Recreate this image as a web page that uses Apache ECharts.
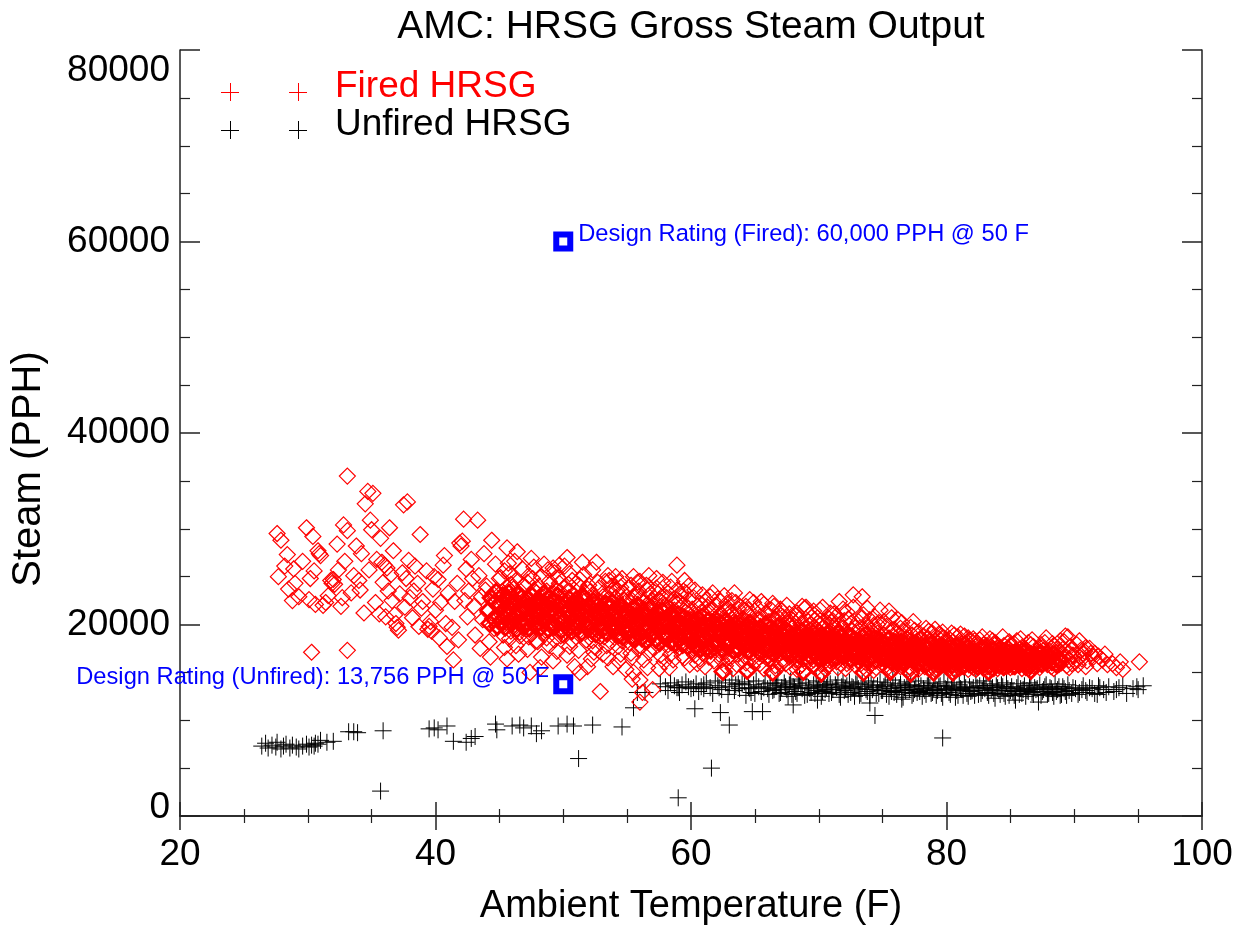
<!DOCTYPE html>
<html>
<head>
<meta charset="utf-8">
<script src="https://cdn.jsdelivr.net/npm/echarts@6/dist/echarts.min.js"></script>
<style>html,body{margin:0;padding:0;background:#fff}#c{width:1244px;height:928px}</style>
</head>
<body>
<div id="c"></div>
<script>
// ---- axis / text data ----
const titleText = 'AMC: HRSG Gross Steam Output';
const xName = 'Ambient Temperature (F)';
const yName = 'Steam (PPH)';
const xRange = [20, 100];
const yRange = [0, 80000];
const legendNames = ['Fired HRSG', 'Unfired HRSG'];

// ---- design ratings ----
const designFired = [50, 60000];
const designUnfired = [50, 13756];
const designFiredLabel = 'Design Rating (Fired): 60,000 PPH @ 50 F';
const designUnfiredLabel = 'Design Rating (Unfired): 13,756 PPH @ 50 F';

// ---- Fired HRSG (T [F], steam [PPH]) ----
const firedCool = [
[27.6,29500],[27.9,28800],[27.7,25000],[28.2,26100],[28.5,23700],[28.8,22500],[28.4,27300],[29.0,24300],[29.3,22900],[28.9,25800],
[29.9,30100],[30.4,29200],[30.3,17100],[30.1,22600],[30.6,22100],[30.8,27700],[31.0,27200],[30.9,27400],[30.5,25600],[29.6,26600],[30.2,24800],[31.2,22000],[31.4,22300],
[31.8,24600],[31.9,24300],[32.0,24700],[32.1,24200],[31.6,23000],[32.4,25700],[32.6,21900],[32.8,30400],[33.1,29800],[33.1,35500],[33.1,17300],[32.9,26600],[32.3,28400],[33.4,23300],[33.6,25100],[32.7,22800],
[34.0,24600],[34.2,27400],[34.5,32600],[34.7,33900],[34.9,30900],[35.0,29900],[35.1,33700],[35.3,22300],[34.4,21200],[34.8,25700],[33.8,28200],[35.4,26800],[34.1,23600],[35.6,21100],
[35.7,29000],[35.8,26500],[36.0,26200],[36.2,25900],[36.4,30100],[36.3,23500],[35.9,24400],[36.6,22500],[36.8,21000],[36.9,20100],[37.0,19700],[37.1,19400],[36.7,27700],[36.5,25200],[37.2,23200],[36.1,20800],
[37.5,32500],[37.8,32800],[37.4,25400],[37.7,24800],[38.0,22800],[38.2,20700],[38.4,26100],[38.6,24300],[38.8,29400],[38.9,21700],[38.3,23500],[37.9,26700],[38.7,19800],[39.0,22400],[37.6,21800],
[39.4,19500],[39.5,19800],[39.7,19300],[39.6,20300],[39.3,25600],[39.8,23700],[40.0,21500],[40.2,24700],[40.4,22300],[40.6,26200],[40.8,20100],[40.9,17700],[41.0,23300],[39.9,25000],[40.3,18600],[40.7,27200],
[41.4,16300],[41.5,22400],[41.7,24300],[41.9,28500],[42.0,28200],[42.1,28700],[42.2,31000],[42.4,25800],[42.5,20800],[42.6,23500],[42.8,26800],[43.0,21900],[41.3,19700],[41.8,18400],[42.9,24800],[42.3,22500],[43.3,30900],[43.1,18900],
[43.4,25100],[43.6,22900],[43.7,20500],[43.8,27400],[44.0,24000],[44.1,21300],[44.2,18200],[44.4,28800],[44.5,23200],[44.6,19600],[44.7,26300],[44.9,22100],[45.0,24800],[43.5,17500],[44.3,16600],[44.8,20700],[43.9,23600]
];
const firedMid = [
[45.1,21800],[45.2,23400],[45.3,19900],[45.4,25600],[45.5,20600],[45.6,28000],[45.7,22700],[45.8,18500],[45.9,24200],[45.2,21000],[45.4,17600],[45.6,23900],[45.8,20300],[45.3,22400],[45.7,26400],[45.9,19300],[45.1,24900],[45.5,21400],[45.6,16400],[45.9,22900],[45.3,18900],[45.8,25300],
[46.0,21100],[46.1,23700],[46.2,20000],[46.3,24600],[46.4,27600],[46.5,22200],[46.6,18800],[46.7,21600],[46.8,25800],[46.9,19600],[46.1,22800],[46.3,17800],[46.5,23300],[46.7,20400],[46.9,24100],[46.2,26600],[46.4,21300],[46.6,19200],[46.8,22400],[46.0,23900],[46.5,16900],[46.9,21900],[46.3,20800],
[47.0,22500],[47.1,19500],[47.2,24400],[47.3,21200],[47.4,15000],[47.5,23100],[47.6,20100],[47.7,26000],[47.8,22000],[47.9,18300],[47.1,21700],[47.3,25100],[47.5,19000],[47.7,23600],[47.9,20900],[47.2,17400],[47.4,22600],[47.6,24800],[47.8,21400],[47.0,20000],[47.5,26900],[47.9,23300],[47.3,18700],
[48.0,21900],[48.1,24000],[48.2,15500],[48.3,20500],[48.4,22900],[48.5,26300],[48.6,19400],[48.7,23500],[48.8,21000],[48.9,17800],[48.1,22300],[48.3,25000],[48.5,20200],[48.7,18600],[48.9,24500],[48.2,21600],[48.4,19100],[48.6,23000],[48.8,25700],[48.0,18200],[48.5,21300],[48.9,22600],[48.3,16600],[48.7,20700],
[49.0,22100],[49.1,19800],[49.2,25900],[49.3,21500],[49.4,23700],[49.5,17200],[49.6,20600],[49.7,24300],[49.8,22800],[49.9,19000],[49.1,23200],[49.3,18400],[49.5,21900],[49.7,26200],[49.9,20300],[49.2,16200],[49.4,22500],[49.6,24900],[49.8,18800],[49.0,20900],[49.5,23500],[49.9,21300],[49.3,25400],[49.7,19600],
[50.0,21200],[50.1,23900],[50.2,19300],[50.3,27000],[50.4,22300],[50.5,17700],[50.6,20800],[50.7,24600],[50.8,21700],[50.9,15600],[50.1,22700],[50.3,20100],[50.5,25300],[50.7,18300],[50.9,23000],[50.2,21000],[50.4,24200],[50.6,19800],[50.8,22000],[50.0,18900],[50.5,23500],[50.9,20500],[50.3,16800],[50.7,21900],[50.1,26100],
[51.0,22200],[51.1,19600],[51.2,24100],[51.3,15000],[51.4,21400],[51.5,26500],[51.6,20200],[51.7,23300],[51.8,18400],[51.9,15600],[51.1,21800],[51.3,24700],[51.5,19200],[51.7,22500],[51.9,20700],[51.2,17300],[51.4,23000],[51.6,25200],[51.8,21100],[51.0,19900],[51.5,22900],[51.9,23700],[51.3,18900],[51.7,20000],[51.2,21500],
[52.0,21000],[52.1,23400],[52.2,19000],[52.3,25700],[52.4,22000],[52.5,17600],[52.6,26500],[52.7,20400],[52.8,23800],[52.9,13000],[52.1,21600],[52.3,18300],[52.5,22700],[52.7,24400],[52.9,20000],[52.2,16400],[52.4,21300],[52.6,19500],[52.8,22400],[52.0,24100],[52.5,20900],[52.9,18700],[52.3,23100],[52.7,21900],[52.4,17100],
[53.0,20700],[53.1,22900],[53.2,18700],[53.3,24500],[53.4,21400],[53.5,16500],[53.6,23200],[53.7,19900],[53.8,21900],[53.9,15600],[53.1,20300],[53.3,22300],[53.5,25100],[53.7,18200],[53.9,23700],[53.2,20900],[53.4,17800],[53.6,21700],[53.8,24000],[53.0,19400],[53.5,22600],[53.9,20200],[53.3,19100],[53.7,22000],[53.1,16900],[53.6,24600],
[54.0,21200],[54.1,18900],[54.2,23600],[54.3,20400],[54.4,22200],[54.5,16900],[54.6,24800],[54.7,19700],[54.8,21600],[54.9,15300],[54.1,22800],[54.3,17700],[54.5,20900],[54.7,23300],[54.9,19200],[54.2,21900],[54.4,24400],[54.6,18300],[54.8,22500],[54.0,20000],[54.5,23900],[54.9,21400],[54.3,16200],[54.7,20600],[54.1,25000],[54.6,22000],
[55.0,20500],[55.1,22600],[55.2,18100],[55.3,24100],[55.4,21000],[55.5,15000],[55.6,23000],[55.7,19400],[55.8,21800],[55.9,17400],[55.1,20000],[55.3,22200],[55.5,25000],[55.7,18800],[55.9,23500],[55.2,20700],[55.4,16600],[55.6,21500],[55.8,24400],[55.0,19000],[55.5,22900],[55.9,20300],[55.3,17000],[55.7,21300],[55.1,23800],[55.6,19800],[55.4,14300],[55.8,22000],
[56.0,24500],[56.1,19700],[56.2,12900],[56.0,11900],[56.3,22300],[56.4,18200],[56.5,20800],[56.6,23600],[56.7,17100],[56.8,21500],[56.9,19100],[56.1,22800],[56.3,16300],[56.5,24100],[56.7,20200],[56.9,22500],[56.2,18800],[56.4,21200],[56.6,15500],[56.8,23200],[56.0,14200],[56.5,19500],[56.9,21800],[56.3,20000],[56.7,25100],[56.1,17700],[56.6,22100],
[57.0,13200],[57.1,21000],[57.2,18600],[57.3,23800],[57.4,20100],[57.5,22600],[57.6,16800],[57.7,19700],[57.8,24400],[57.9,21300],[57.1,17500],[57.3,20900],[57.5,15400],[57.7,22900],[57.9,18800],[57.2,21600],[57.4,23200],[57.6,19200],[57.8,20500],[57.0,22100],[57.5,18200],[57.9,16100],[57.3,24800],[57.7,21900],[57.1,19900],[57.6,22400],
[58.0,20600],[58.1,22800],[58.2,17900],[58.3,19300],[58.4,23900],[58.5,21200],[58.6,16300],[58.7,20000],[58.8,22300],[58.9,26200],[58.1,18500],[58.3,21700],[58.5,24500],[58.7,19100],[58.9,21000],[58.2,23300],[58.4,16900],[58.6,20400],[58.8,18200],[58.0,22000],[58.5,19600],[58.9,23600],[58.3,15500],[58.7,21500],[58.1,20800],[58.6,22600],
[59.0,19700],[59.1,22400],[59.2,18100],[59.3,20900],[59.4,23500],[59.5,16500],[59.6,21300],[59.7,19000],[59.8,24000],[59.9,20300],[59.1,17600],[59.3,22000],[59.5,19400],[59.7,21800],[59.9,15800],[59.2,23000],[59.4,20000],[59.6,18600],[59.8,22600],[59.0,21100],[59.5,24600],[59.9,18900],[59.3,16700],[59.7,20600],[59.1,19900],[59.6,23300]
];
const firedWarm = [
[60.0,19200],[60.1,21600],[60.2,17500],[60.3,23600],[60.4,20100],[60.5,15900],[60.6,18800],[60.7,22200],[60.8,19800],[60.9,17000],[60.1,20500],[60.3,18300],[60.5,21900],[60.7,16400],[60.9,20900],[60.2,22800],[60.4,19000],[60.6,17800],[60.8,21300],[60.0,18500],[60.5,20300],[60.9,23100],[60.3,16800],[60.7,19500],[60.2,21100],[60.6,18100],
[61.0,20700],[61.1,18300],[61.2,22600],[61.3,19600],[61.4,16600],[61.5,21200],[61.6,17900],[61.7,23300],[61.8,19200],[61.9,20500],[61.1,15600],[61.3,21800],[61.5,18700],[61.7,20100],[61.9,22000],[61.2,17300],[61.4,19900],[61.6,21500],[61.8,16200],[61.0,18900],[61.5,22900],[61.9,17600],[61.3,20300],[61.7,18000],[61.1,21000],[61.6,19400],
[62.0,18600],[62.1,20800],[62.2,16900],[62.3,22400],[62.4,19300],[62.5,17500],[62.6,21400],[62.7,15700],[62.8,20000],[62.9,18200],[62.1,22700],[62.3,19000],[62.5,20600],[62.7,17200],[62.9,21700],[62.2,18900],[62.4,16300],[62.6,19800],[62.8,22200],[62.0,20300],[62.5,18400],[62.9,16600],[62.3,21100],[62.7,19500],[62.1,17800],[62.6,23000],
[63.0,19100],[63.1,21300],[63.2,17300],[63.3,20200],[63.4,23300],[63.5,18600],[63.6,15800],[63.7,19700],[63.8,21900],[63.9,17900],[63.1,16500],[63.3,18800],[63.5,21000],[63.7,17600],[63.9,20400],[63.2,22500],[63.4,19300],[63.6,16900],[63.8,18300],[63.0,20800],[63.5,22300],[63.9,19000],[63.3,15400],[63.7,21600],[63.1,18100],[63.6,20600],
[64.0,18400],[64.1,20600],[64.2,16700],[64.3,21900],[64.4,19000],[64.5,17400],[64.6,22600],[64.7,18900],[64.8,15600],[64.9,22300],[64.1,19500],[64.3,17800],[64.5,20200],[64.7,16300],[64.9,19800],[64.2,21400],[64.4,18100],[64.6,20900],[64.8,17100],[64.0,19300],[64.5,21500],[64.9,18600],[64.3,16000],[64.7,20000],[64.1,17600],[64.6,19700],
[65.0,19600],[65.1,17600],[65.2,21700],[65.3,18300],[65.4,15900],[65.5,20400],[65.6,17100],[65.7,22100],[65.8,18900],[65.9,16500],[65.1,20100],[65.3,17900],[65.5,19200],[65.7,15400],[65.9,21200],[65.2,18700],[65.4,20800],[65.6,16800],[65.8,19900],[65.0,18000],[65.5,22400],[65.9,17300],[65.3,20500],[65.7,18500],[65.1,16200],[65.6,19400],
[66.0,18200],[66.1,20300],[66.2,16500],[66.3,21500],[66.4,17700],[66.5,19500],[66.6,15700],[66.7,20900],[66.8,18600],[66.9,17000],[66.1,19000],[66.3,16100],[66.5,21900],[66.7,17400],[66.9,20000],[66.2,18900],[66.4,22200],[66.6,17900],[66.8,19700],[66.0,16800],[66.5,18300],[66.9,21100],[66.3,19300],[66.7,15300],[66.1,17200],[66.6,20600],
[67.0,19400],[67.1,17100],[67.2,20800],[67.3,16200],[67.4,18700],[67.5,22000],[67.6,17500],[67.7,19900],[67.8,15500],[67.9,18100],[67.1,21400],[67.3,17800],[67.5,19100],[67.7,16600],[67.9,20500],[67.2,18400],[67.4,15900],[67.6,20200],[67.8,17300],[67.0,21600],[67.5,16900],[67.9,19600],[67.3,18900],[67.7,21100],[67.1,16000],[67.6,18000],
[68.0,17700],[68.1,19800],[68.2,16300],[68.3,21200],[68.4,18200],[68.5,15600],[68.6,20100],[68.7,17400],[68.8,19300],[68.9,21700],[68.1,16900],[68.3,18700],[68.5,20600],[68.7,15800],[68.9,18500],[68.2,20900],[68.4,17000],[68.6,18900],[68.8,16400],[68.0,20400],[68.5,17900],[68.9,19600],[68.3,15300],[68.7,21900],[68.1,18300],[68.6,16700],
[69.0,18800],[69.1,16600],[69.2,20300],[69.3,17500],[69.4,19400],[69.5,15700],[69.6,21400],[69.7,18000],[69.8,16900],[69.9,20700],[69.1,18400],[69.3,21000],[69.5,17200],[69.7,19700],[69.9,15500],[69.2,17800],[69.4,20000],[69.6,16300],[69.8,19000],[69.0,21800],[69.5,18600],[69.9,17600],[69.3,16000],[69.7,20500],[69.1,19200],[69.6,17300],
[70.0,17900],[70.1,20000],[70.2,16500],[70.3,21800],[70.4,18600],[70.5,15400],[70.6,19500],[70.7,17100],[70.8,20600],[70.9,16200],[70.1,18300],[70.3,15900],[70.5,19900],[70.7,18800],[70.9,21200],[70.2,17400],[70.4,20300],[70.6,16800],[70.8,18100],[70.0,19300],[70.5,17700],[70.9,19100],[70.3,17000],[70.7,15600],[70.1,21500],[70.6,18500],
[71.0,18700],[71.1,16400],[71.2,19800],[71.3,17300],[71.4,20900],[71.5,15500],[71.6,22400],[71.7,18100],[71.8,16800],[71.9,19600],[71.1,20400],[71.3,17700],[71.5,18900],[71.7,15900],[71.9,17500],[71.2,21100],[71.4,16100],[71.6,19200],[71.8,17900],[71.0,20200],[71.5,16600],[71.9,21600],[71.3,18400],[71.7,20000],[71.1,17000],[71.6,18300],
[72.0,17300],[72.1,19200],[72.2,15900],[72.3,20600],[72.4,17800],[72.5,16400],[72.6,18800],[72.7,23100],[72.8,17100],[72.9,19700],[72.1,15400],[72.3,18200],[72.5,20100],[72.7,16700],[72.9,18400],[72.2,21300],[72.4,16100],[72.6,19400],[72.8,17600],[72.0,20400],[72.5,18500],[72.9,15700],[72.3,17000],[72.7,21800],[72.1,18000],[72.6,16900],
[73.0,18300],[73.1,16300],[73.2,19600],[73.3,17400],[73.4,22900],[73.5,15600],[73.6,18900],[73.7,17000],[73.8,21700],[73.9,16600],[73.1,20300],[73.3,18000],[73.5,19200],[73.7,15300],[73.9,18600],[73.2,17700],[73.4,20700],[73.6,16100],[73.8,19000],[73.0,16900],[73.5,21000],[73.9,17800],[73.3,15900],[73.7,19900],[73.1,17200],[73.6,18200],
[74.0,17600],[74.1,19400],[74.2,16000],[74.3,18500],[74.4,20800],[74.5,15500],[74.6,17900],[74.7,16800],[74.8,21500],[74.9,18100],[74.1,16500],[74.3,19900],[74.5,17300],[74.7,20200],[74.9,15800],[74.2,18800],[74.4,16300],[74.6,19100],[74.8,17500],[74.0,20500],[74.5,18300],[74.9,16900],[74.3,15200],[74.7,18600],[74.1,17100],[74.6,20000]
];
const firedHot = [
[75.0,17000],[75.1,18900],[75.2,15700],[75.3,19800],[75.4,16600],[75.5,21400],[75.6,17700],[75.7,15300],[75.8,18300],[75.9,16200],[75.1,20300],[75.3,17300],[75.5,18600],[75.7,16000],[75.9,19500],[75.2,17900],[75.4,15500],[75.6,19100],[75.8,16800],[75.0,18100],[75.5,17500],[75.9,15900],[75.3,18000],[75.7,20700],[75.1,16400],
[76.0,18200],[76.1,16100],[76.2,20500],[76.3,17400],[76.4,15600],[76.5,18700],[76.6,16700],[76.7,19300],[76.8,17100],[76.9,15200],[76.1,19000],[76.3,16400],[76.5,17800],[76.7,15900],[76.9,18500],[76.2,17000],[76.4,19600],[76.6,16300],[76.8,18000],[76.0,15800],[76.5,20200],[76.9,17300],[76.3,18900],[76.7,16500],[76.1,17600],
[77.0,16800],[77.1,18600],[77.2,15400],[77.3,17700],[77.4,20300],[77.5,16300],[77.6,18100],[77.7,15800],[77.8,19200],[77.9,17000],[77.1,15600],[77.3,18900],[77.5,17300],[77.7,16600],[77.9,18400],[77.2,19700],[77.4,16100],[77.6,17500],[77.8,15300],[77.0,18000],[77.5,19400],[77.9,16400],[77.3,16900],[77.7,18300],[77.1,17200],
[78.0,17500],[78.1,15900],[78.2,18800],[78.3,16500],[78.4,19600],[78.5,17200],[78.6,15400],[78.7,18200],[78.8,16700],[78.9,19100],[78.1,17800],[78.3,15600],[78.5,18500],[78.7,16200],[78.9,17400],[78.2,16000],[78.4,17900],[78.6,19300],[78.8,15700],[78.0,18600],[78.5,16400],[78.9,18000],[78.3,17100],[78.7,15300],[78.1,16900],
[79.0,16600],[79.1,18300],[79.2,15500],[79.3,17600],[79.4,19000],[79.5,16200],[79.6,17900],[79.7,15800],[79.8,18600],[79.9,16900],[79.1,15300],[79.3,18100],[79.5,17300],[79.7,19200],[79.9,15700],[79.2,17000],[79.4,16400],[79.6,18800],[79.8,17400],[79.0,15900],[79.5,18400],[79.9,16300],[79.3,16700],[79.7,17700],[79.1,19500],
[80.0,17300],[80.1,15700],[80.2,18500],[80.3,16400],[80.4,19100],[80.5,16900],[80.6,15400],[80.7,17800],[80.8,16100],[80.9,18700],[80.1,17000],[80.3,15500],[80.5,18200],[80.7,16600],[80.9,17500],[80.2,16000],[80.4,17700],[80.6,18900],[80.8,15800],[80.0,18400],[80.5,16300],[80.9,17200],[80.3,17900],[80.7,15200],[80.1,16700],
[81.0,16500],[81.1,18100],[81.2,15600],[81.3,17400],[81.4,18800],[81.5,16200],[81.6,17700],[81.7,15300],[81.8,18400],[81.9,16800],[81.1,15900],[81.3,17900],[81.5,17100],[81.7,18600],[81.9,15700],[81.2,16900],[81.4,16000],[81.6,18200],[81.8,17200],[81.0,15400],[81.5,18000],[81.9,16400],[81.3,16600],[81.7,17500],[81.1,19000],
[82.0,17100],[82.1,15500],[82.2,18300],[82.3,16300],[82.4,17800],[82.5,15800],[82.6,18400],[82.7,16700],[82.8,17300],[82.9,15400],[82.1,16900],[82.3,18000],[82.5,16500],[82.7,17600],[82.9,16100],[82.2,15700],[82.4,16800],[82.6,17000],[82.8,18700],[82.0,16000],[82.5,17400],[82.9,17900],[82.3,15300],[82.7,16400],[82.1,18500],
[83.0,16400],[83.1,17800],[83.2,15600],[83.3,17200],[83.4,18500],[83.5,16100],[83.6,17500],[83.7,15400],[83.8,18100],[83.9,16700],[83.1,15900],[83.3,16600],[83.5,17700],[83.7,16300],[83.9,17400],[83.2,16900],[83.4,15700],[83.6,18300],[83.8,16000],[83.0,17600],[83.5,15500],[83.9,18000],[83.3,17000],[83.7,17900],
[84.0,16900],[84.1,15700],[84.2,17600],[84.3,16200],[84.4,18700],[84.5,15500],[84.6,17300],[84.7,16600],[84.8,18000],[84.9,15900],[84.1,17000],[84.3,16500],[84.5,17800],[84.7,15600],[84.9,17100],[84.2,16400],[84.4,15800],[84.6,16800],[84.8,17500],[84.0,15400],[84.5,16300],[84.9,18200],[84.3,17400],[84.7,16000],
[85.0,16600],[85.1,17800],[85.2,15600],[85.3,17100],[85.4,16200],[85.5,18300],[85.6,15800],[85.7,17400],[85.8,16500],[85.9,15400],[85.1,16900],[85.3,18000],[85.5,16100],[85.7,15700],[85.9,17600],[85.2,16400],[85.4,17200],[85.6,16700],[85.8,18500],[85.0,15500],
[86.0,16300],[86.1,17500],[86.2,15500],[86.3,16800],[86.4,18100],[86.5,15900],[86.6,17000],[86.7,16400],[86.8,17700],[86.9,15600],[86.1,16600],[86.3,17300],[86.5,16100],[86.7,18400],[86.9,16900],[86.2,15800],[86.4,16500],[86.6,17900],[86.8,15700],
[87.0,16800],[87.1,15700],[87.2,17400],[87.3,16300],[87.4,17900],[87.5,15900],[87.6,16600],[87.7,18100],[87.8,16100],[87.9,17100],[87.1,16500],[87.3,15500],[87.5,17600],[87.7,16900],[87.9,15800],[87.2,16200],[87.6,17300],[87.8,18600],
[88.0,16400],[88.1,17200],[88.2,15600],[88.3,16900],[88.4,17800],[88.5,15900],[88.6,16600],[88.7,17500],[88.8,16100],[88.9,18300],[88.2,16700],[88.4,15400],[88.6,17100],[88.8,15800],[88.3,18000],[88.7,16300],
[89.0,16000],[89.1,17400],[89.2,16500],[89.3,18800],[89.4,15700],[89.5,17000],[89.6,16300],[89.7,17700],[89.8,15900],[89.9,16800],[89.2,18200],[89.4,16600],[89.6,15500],[89.8,17300],[89.5,18700],
[90.0,16700],[90.2,17900],[90.3,15800],[90.5,17300],[90.6,16400],[90.8,17200],[90.9,15600],[90.1,16100],[90.4,18300],[90.7,16900],[90.9,17600],
[91.0,16200],[91.3,17000],[91.5,16600],[91.6,17000],[91.8,15900],[91.2,17500],[91.9,16700],
[92.2,16300],[92.6,15800],[92.4,16900],[93.0,15900],[93.3,15500],[93.8,15300],[93.6,16100],[95.1,16100]
];
// dense core of the fired cloud
const firedCore = [
[44.15,21500],[44.35,22800],[44.55,20600],[44.75,23400],[44.95,21900],[44.25,20100],[44.65,22300],[44.85,19800],
[45.05,22100],[45.15,20400],[45.25,23000],[45.35,21300],[45.45,19700],[45.55,22500],[45.65,20900],[45.75,23300],[45.85,21700],[45.95,20100],
[46.05,20600],[46.15,22300],[46.25,21000],[46.35,19500],[46.45,23100],[46.55,21500],[46.65,20200],[46.75,22800],[46.85,21200],[46.95,19900],
[47.05,21800],[47.15,20300],[47.25,22600],[47.35,19600],[47.45,21100],[47.55,23000],[47.65,20700],[47.75,22200],[47.85,19900],[47.95,21500],
[48.05,20800],[48.15,22500],[48.25,19700],[48.35,21600],[48.45,23200],[48.55,20400],[48.65,22000],[48.75,21200],[48.85,19500],[48.95,22800],
[49.05,21600],[49.15,20100],[49.25,22400],[49.35,19800],[49.45,21200],[49.55,23000],[49.65,20500],[49.75,22100],[49.85,19400],[49.95,21800],
[50.05,20400],[50.15,22100],[50.25,21400],[50.35,19600],[50.45,22700],[50.55,20900],[50.65,19300],[50.75,21900],[50.85,20200],[50.95,22500],
[51.05,21300],[51.15,19700],[51.25,22200],[51.35,20500],[51.45,19200],[51.55,21700],[51.65,22800],[51.75,20000],[51.85,21500],[51.95,19500],
[52.05,20100],[52.15,21800],[52.25,19400],[52.35,22400],[52.45,20700],[52.55,19000],[52.65,21300],[52.75,22000],[52.85,19800],[52.95,21000],
[53.05,21500],[53.15,19600],[53.25,20800],[53.35,22100],[53.45,19100],[53.55,20300],[53.65,21800],[53.75,20000],[53.85,22300],[53.95,19400],
[54.05,19800],[54.15,21400],[54.25,20500],[54.35,18900],[54.45,21900],[54.55,20000],[54.65,18700],[54.75,21200],[54.85,20700],[54.95,19300],
[55.05,21200],[55.15,19300],[55.25,20600],[55.35,18700],[55.45,21700],[55.55,19900],[55.65,18500],[55.75,20900],[55.85,22000],[55.95,19100],
[56.05,20300],[56.15,18600],[56.25,21300],[56.35,19400],[56.45,20800],[56.55,18300],[56.65,19900],[56.75,21600],[56.85,18900],[56.95,20500],
[57.05,19200],[57.15,20700],[57.25,18400],[57.35,21200],[57.45,19600],[57.55,18100],[57.65,20300],[57.75,21400],[57.85,18800],[57.95,19900],
[58.05,20500],[58.15,18700],[58.25,19900],[58.35,21000],[58.45,18200],[58.55,19500],[58.65,20800],[58.75,18000],[58.85,19700],[58.95,20300],
[59.05,18600],[59.15,20100],[59.25,19300],[59.35,17900],[59.45,20700],[59.55,18900],[59.65,19800],[59.75,17700],[59.85,20400],[59.95,19000],
[60.05,19700],[60.15,18200],[60.25,20300],[60.35,17700],[60.45,19300],[60.55,20600],[60.65,18500],[60.75,17500],[60.85,19900],[60.95,18800],
[61.05,18400],[61.15,19900],[61.25,17600],[61.35,20400],[61.45,18900],[61.55,17300],[61.65,19500],[61.75,20200],[61.85,18100],[61.95,19200],
[62.05,19500],[62.15,17900],[62.25,18700],[62.35,20100],[62.45,17400],[62.55,19200],[62.65,18200],[62.75,20400],[62.85,17700],[62.95,19700],
[63.05,18000],[63.15,19600],[63.25,18900],[63.35,17300],[63.45,20000],[63.55,18400],[63.65,19300],[63.75,17500],[63.85,19900],[63.95,18600],
[64.05,19100],[64.15,17700],[64.25,18500],[64.35,19800],[64.45,17200],[64.55,18900],[64.65,20100],[64.75,17900],[64.85,18300],[64.95,19500],
[65.05,17900],[65.15,19300],[65.25,18600],[65.35,17100],[65.45,19700],[65.55,18200],[65.65,19000],[65.75,17500],[65.85,20000],[65.95,18800],
[66.05,18900],[66.15,17400],[66.25,19600],[66.35,18300],[66.45,17000],[66.55,19100],[66.65,18600],[66.75,17700],[66.85,19800],[66.95,18000],
[67.05,17600],[67.15,18900],[67.25,18000],[67.35,19500],[67.45,17200],[67.55,18500],[67.65,19200],[67.75,16900],[67.85,18700],[67.95,17900],
[68.05,18600],[68.15,17300],[68.25,19000],[68.35,17800],[68.45,16800],[68.55,18400],[68.65,19300],[68.75,17100],[68.85,18100],[68.95,17600],
[69.05,17400],[69.15,18800],[69.25,17900],[69.35,16700],[69.45,18300],[69.55,19100],[69.65,17000],[69.75,18500],[69.85,17700],[69.95,16500],
[70.05,18400],[70.15,17100],[70.25,18900],[70.35,17600],[70.45,16600],[70.55,18200],[70.65,19000],[70.75,17300],[70.85,16900],[70.95,18600],
[71.05,17200],[71.15,18500],[71.25,17700],[71.35,16500],[71.45,18200],[71.55,19100],[71.65,16900],[71.75,18700],[71.85,17400],[71.95,16700],
[72.05,18100],[72.15,16800],[72.25,17500],[72.35,18800],[72.45,16400],[72.55,17900],[72.65,17200],[72.75,18400],[72.85,16600],[72.95,18000],
[73.05,17000],[73.15,18300],[73.25,16600],[73.35,17800],[73.45,18700],[73.55,16900],[73.65,17500],[73.75,18200],[73.85,16400],[73.95,17300],
[74.05,18000],[74.15,16700],[74.25,17400],[74.35,18500],[74.45,16300],[74.55,17700],[74.65,17100],[74.75,18300],[74.85,16500],[74.95,17500],
[75.05,16800],[75.15,17900],[75.25,16400],[75.35,17300],[75.45,18400],[75.55,16600],[75.65,17700],[75.75,16100],[75.85,17100],[75.95,18100],
[76.05,17400],[76.15,16300],[76.25,17800],[76.35,16800],[76.45,18200],[76.55,16000],[76.65,17200],[76.75,17900],[76.85,16500],[76.95,17000],
[77.05,16500],[77.15,17600],[77.25,16900],[77.35,18000],[77.45,16200],[77.55,17300],[77.65,16700],[77.75,17800],[77.85,16000],[77.95,17100],
[78.05,17300],[78.15,16400],[78.25,17700],[78.35,16800],[78.45,15900],[78.55,17500],[78.65,16600],[78.75,17900],[78.85,16200],[78.95,17000],
[79.05,16300],[79.15,17400],[79.25,16800],[79.35,15800],[79.45,17700],[79.55,16500],[79.65,17100],[79.75,16000],[79.85,17500],[79.95,16700],
[80.05,17000],[80.15,16200],[80.25,17500],[80.35,16600],[80.45,15800],[80.55,17300],[80.65,16400],[80.75,17700],[80.85,16000],[80.95,16900],
[81.05,16200],[81.15,17300],[81.25,16700],[81.35,15700],[81.45,17000],[81.55,16400],[81.65,17600],[81.75,15900],[81.85,16800],[81.95,17200],
[82.05,16800],[82.15,16000],[82.25,17100],[82.35,16500],[82.45,15600],[82.55,16900],[82.65,16200],[82.75,17400],[82.85,15800],[82.95,16600],
[83.05,16100],[83.15,17000],[83.25,16500],[83.35,15700],[83.45,16900],[83.55,16300],[83.65,17300],[83.75,15900],[83.85,16700],[83.95,16200],
[84.05,16700],[84.15,15900],[84.25,16900],[84.35,16300],[84.45,15600],[84.55,16800],[84.65,16100],[84.75,17100],[84.85,15800],[84.95,16500],
[85.05,16000],[85.15,16800],[85.25,16300],[85.35,15700],[85.45,16900],[85.55,16200],[85.65,17000],[85.75,15900],[85.85,16600],[85.95,16100],
[86.05,16500],[86.25,15900],[86.45,16800],[86.65,16200],[86.85,16600],[86.15,17100],[86.55,15700],
[87.05,16300],[87.25,16900],[87.45,15900],[87.65,16500],[87.85,16100],[87.35,17000],
[88.05,16600],[88.25,16100],[88.45,16900],[88.65,15800],[88.85,16400],
[62.5,15100],[64.4,15200],[66.4,15000],[68.8,15100],[70.2,14900],[73.5,15000],[75.6,15100],[77.2,14900],[79.0,15000],[80.5,15000],[83.3,15100],[86.6,15200]
];

// ---- Unfired HRSG ----
const unfiredLow = [
[26.4,7300],[26.7,7600],[26.9,7100],[27.2,7400],[27.5,7200],[27.6,7700],[27.9,7000],[28.1,7300],[28.3,7500],[28.6,7100],
[28.8,7400],[29.1,7200],[29.3,7000],[29.6,7300],[29.9,7500],[30.1,7200],[30.3,7400],[30.5,7300],[30.6,7600],[30.8,7500],
[31.0,7900],[31.5,7700],[32.0,7800],[33.2,8800],[33.6,8800],[33.9,8700],[35.9,8900],[35.7,2600],
[39.5,9100],[39.9,9200],[40.2,9000],[40.9,9400],[41.4,7800],[42.4,7700],[42.8,8100],[43.1,8300],
[44.7,9600],[44.8,9000],[46.0,9400],[46.6,9500],[46.9,9200],[47.5,9400],[47.9,8600],[48.3,8900],
[49.6,9400],[50.3,9600],[50.8,9400],[51.2,6000],[52.3,9500],[54.6,9300],[55.5,11300],[55.8,12900],[56.4,12900]
];
const unfiredOutliers = [
[59.0,13400],[60.2,13400],[61.0,13300],[60.3,11200],[62.3,10800],[63.0,9500],[64.8,10900],[65.6,10900],
[68.0,11600],[69.9,12100],[74.0,11800],[74.4,10500],[76.5,12200],[79.7,8150],[61.6,5000],[59.0,1900]
];
const unfiredBand = [
[57.6,13800],[58.0,13500],[58.4,13900],[58.9,13400],[59.3,13700],[59.6,14000],[60.0,13300],[60.4,13800],[60.8,13500],
[61.2,13900],[61.5,13400],[61.9,14100],[62.1,13600],[62.4,13200],[62.7,13900],[63.0,13500],[63.2,14200],[63.5,13700],[63.8,13300],
[64.0,13800],[64.2,14000],[64.5,13400],[64.7,12900],[64.9,13700],[65.1,14100],[65.3,13500],[65.5,13000],[65.8,13800],[66.0,13300],
[66.2,13900],[66.4,13100],[66.6,13600],[66.8,14200],[66.9,12800],
[67.1,13400],[67.3,13900],[67.5,13200],[67.7,13700],[67.8,14100],[67.9,12700],
[68.0,13500],[68.2,13000],[68.4,13800],[68.5,14300],[68.7,13300],[68.9,12600],
[69.0,13900],[69.2,13400],[69.4,12900],[69.6,13700],[69.8,14100],[69.9,13100],
[70.1,13600],[70.3,13000],[70.4,14000],[70.6,13400],[70.8,12800],[70.9,13800],
[71.1,13200],[71.3,13700],[71.5,14200],[71.6,12700],[71.8,13500],[71.9,13900],
[72.0,13100],[72.2,13600],[72.4,14000],[72.5,12900],[72.7,13400],[72.9,13800],
[73.1,13300],[73.2,12600],[73.4,13900],[73.6,13500],[73.8,13000],[73.9,14100],
[74.1,13700],[74.2,13200],[74.5,12800],[74.6,13600],[74.8,14000],[74.9,13100],
[75.1,13500],[75.3,12700],[75.4,13900],[75.6,13300],[75.8,14200],[75.9,12900],
[76.0,13600],[76.2,13100],[76.4,13800],[76.5,12900],[76.7,13400],[76.9,14000],
[77.1,13200],[77.2,13700],[77.4,12800],[77.6,13500],[77.8,14100],[77.9,13000],
[78.0,13600],[78.2,13300],[78.4,12700],[78.6,13900],[78.7,13400],[78.9,12900],
[79.1,13800],[79.3,13100],[79.4,13500],[79.6,12800],[79.8,14000],[79.9,13300],
[80.1,13600],[80.2,12900],[80.4,13400],[80.6,13900],[80.8,13100],[80.9,12600],
[81.0,13700],[81.2,13200],[81.4,14000],[81.6,12800],[81.8,13500],[81.9,13000],
[82.1,13400],[82.3,13900],[82.5,12700],[82.6,13600],[82.8,13100],[82.9,14100],
[83.0,13300],[83.2,12900],[83.4,13800],[83.6,13400],[83.8,12300],[83.9,13600],
[84.1,13100],[84.3,13700],[84.5,12800],[84.7,13900],[84.8,13300],[84.9,12600],
[85.1,13500],[85.2,13000],[85.4,12100],[85.6,13800],[85.8,13300],[85.9,12800],
[86.1,13600],[86.3,13100],[86.5,13900],[86.7,12900],[86.9,13400],
[87.0,13200],[87.2,11900],[87.3,13700],[87.5,13000],[87.7,13500],[87.9,12700],
[88.1,13400],[88.3,12900],[88.5,13800],[88.7,13200],[88.9,12600],
[89.1,13500],[89.3,13000],[89.5,13700],[89.8,12800],
[90.1,13300],[90.4,12900],[90.7,13600],[90.9,13100],
[91.2,13400],[91.6,12800],[91.9,13600],
[92.3,13200],[92.7,13500],[93.1,13000],[93.5,13400],[93.8,13600],
[94.6,13300],[95.0,13200],[95.4,13600]
];
const unfiredBandLower = [
[58.2,13100],[58.7,13600],[59.1,12900],[59.8,13500],[60.6,13000],[61.0,13700],[61.7,12800],[62.2,13400],[62.9,12700],[63.4,13100],
[63.7,13800],[64.3,12600],[64.6,13300],[65.0,12800],[65.7,13400],[66.1,12700],[66.5,13200],[66.7,13800],[67.0,12900],[67.4,13500],
[67.6,12500],[68.1,13400],[68.3,12800],[68.6,13600],[69.1,12700],[69.3,13300],[69.7,12800],[70.0,13500],[70.2,12500],[70.5,13200],
[70.7,13700],[71.0,12900],[71.4,13400],[71.7,12400],[72.1,13300],[72.3,12700],[72.6,13500],[72.8,12500],[73.0,13700],[73.3,12800],
[73.7,13200],[74.0,12600],[74.3,13400],[74.7,12800],[75.0,13100],[75.2,13700],[75.5,12500],[75.7,13000],[76.1,12700],[76.3,13400],
[76.6,12400],[76.8,13100],[77.0,13600],[77.3,12600],[77.5,13200],[77.7,12900],[78.1,12500],[78.3,13100],[78.5,13600],[78.8,12800],
[79.0,13200],[79.2,12600],[79.5,13600],[79.7,12400],[80.0,13200],[80.3,12700],[80.5,13500],[80.7,12400],[81.1,13300],[81.3,12600],
[81.5,13400],[81.7,12500],[82.0,13100],[82.2,12600],[82.4,13400],[82.7,12800],[83.1,13600],[83.3,12600],[83.5,13200],[83.7,12800],
[84.0,13400],[84.2,12700],[84.4,13500],[84.6,12500],[85.0,13100],[85.3,12600],[85.5,13400],[85.7,12700],[86.0,13200],[86.2,12500],
[86.4,13000],[86.6,13600],[86.8,12700],[87.1,13300],[87.4,12600],[87.6,13200],[87.8,13700],[88.0,12800],[88.2,13300],[88.4,12500],
[88.6,13000],[88.8,13500],[89.0,12700],[89.2,13300],[89.4,12600],[89.6,13100],[89.9,13400],[90.3,12700],[90.6,13200],[91.0,12900],
[91.4,13300],[91.8,12700],[92.0,13400],[92.5,12900],[93.3,13200],[94.1,12800],[94.9,13500]
];

const FONT = 'Liberation Sans';
const RED = '#ff0000';
const BLUE = '#0000ff';
const plusPath = 'path://M0,8H16M8,0V16';

const chart = echarts.init(document.getElementById('c'), null, {renderer: 'canvas'});

const axisCommon = {
  axisLine: {show: true, lineStyle: {color: '#222', width: 1.5}},
  splitLine: {show: false}
};

function plusShape(cx, cy, color) {
  return [
    {type: 'line', shape: {x1: cx - 9, y1: cy + 0.5, x2: cx + 9, y2: cy + 0.5}, style: {stroke: color, lineWidth: 1}, silent: true},
    {type: 'line', shape: {x1: cx + 0.5, y1: cy - 9, x2: cx + 0.5, y2: cy + 9}, style: {stroke: color, lineWidth: 1}, silent: true}
  ];
}

const option = {
  animation: false,
  backgroundColor: '#fff',
  title: {
    text: titleText,
    left: 691, top: 8, textAlign: 'center', padding: 0,
    textStyle: {fontFamily: FONT, fontSize: 39, fontWeight: 'normal', color: '#000'}
  },
  grid: {left: 180, right: 42, top: 50, bottom: 112, containLabel: false, outerBoundsMode: 'none'},
  xAxis: [
    Object.assign({}, axisCommon, {
      type: 'value', min: xRange[0], max: xRange[1], interval: 20,
      name: xName, nameLocation: 'middle', nameGap: 72,
      nameTextStyle: {fontFamily: FONT, fontSize: 38, color: '#000'},
      axisTick: {show: true, inside: true, length: 14, lineStyle: {color: '#222', width: 1.5}},
      minorTick: {show: true, splitNumber: 4, length: 7, lineStyle: {color: '#222', width: 1.2}},
      axisLabel: {margin: 20, fontFamily: FONT, fontSize: 37, color: '#000'}
    }),
    Object.assign({}, axisCommon, {
      type: 'value', position: 'top', min: xRange[0], max: xRange[1], interval: 20,
      axisTick: {show: true, inside: true, length: 14, lineStyle: {color: '#222', width: 1.5}},
      minorTick: {show: true, splitNumber: 4, length: 7, lineStyle: {color: '#222', width: 1.2}},
      axisLabel: {show: false}
    })
  ],
  yAxis: [
    Object.assign({}, axisCommon, {
      type: 'value', min: yRange[0], max: yRange[1], interval: 20000,
      axisTick: {show: true, inside: true, length: 20, lineStyle: {color: '#222', width: 1.5}},
      minorTick: {show: true, splitNumber: 4, length: 10, lineStyle: {color: '#222', width: 1.2}},
      axisLabel: {
        margin: 10, fontFamily: FONT, fontSize: 37, color: '#000',
        formatter: function (v) {
          if (v === yRange[1]) return '{hi|' + v + '}';
          if (v === yRange[0]) return '{lo|' + v + '}';
          return String(v);
        },
        rich: {
          hi: {fontFamily: FONT, fontSize: 37, color: '#000', padding: [42, 0, 0, 0]},
          lo: {fontFamily: FONT, fontSize: 37, color: '#000', padding: [0, 0, 16, 0]}
        }
      }
    }),
    Object.assign({}, axisCommon, {
      type: 'value', position: 'right', min: yRange[0], max: yRange[1], interval: 20000,
      axisTick: {show: true, inside: true, length: 20, lineStyle: {color: '#222', width: 1.5}},
      minorTick: {show: true, splitNumber: 4, length: 10, lineStyle: {color: '#222', width: 1.2}},
      axisLabel: {show: false}
    })
  ],
  series: [
    {
      name: legendNames[1], type: 'scatter', silent: true,
      symbol: plusPath, symbolSize: 17,
      itemStyle: {color: 'rgba(0,0,0,0)', borderColor: '#000', borderWidth: 1, opacity: 1},
      data: unfiredLow.concat(unfiredOutliers, unfiredBandLower, unfiredBand), z: 2
    },
    {
      name: legendNames[0], type: 'scatter', silent: true,
      symbol: 'diamond', symbolSize: 16,
      itemStyle: {color: 'rgba(0,0,0,0)', borderColor: RED, borderWidth: 1.2, opacity: 1},
      data: firedCool.concat(firedMid, firedWarm, firedHot), z: 3
    },
    {
      name: legendNames[0], type: 'scatter', silent: true,
      symbol: 'diamond', symbolSize: 16,
      itemStyle: {color: 'rgba(0,0,0,0)', borderColor: RED, borderWidth: 2.8, opacity: 1},
      data: firedCore, z: 3
    },
    {
      name: 'Design Rating', type: 'scatter', silent: true,
      symbol: 'rect', symbolSize: 14,
      itemStyle: {color: 'rgba(0,0,0,0)', borderColor: BLUE, borderWidth: 6, opacity: 1},
      z: 5,
      data: [
        {value: designFired, label: {show: true, position: 'right', distance: 5, offset: [0, -7], formatter: designFiredLabel,
          fontFamily: FONT, fontSize: 23.7, color: BLUE}},
        {value: designUnfired, label: {show: true, position: 'left', distance: 4, offset: [0, -7], formatter: designUnfiredLabel,
          fontFamily: FONT, fontSize: 23.7, color: BLUE}}
      ]
    }
  ],
  graphic: [
    ...plusShape(230, 92, RED), ...plusShape(298, 92, RED),
    ...plusShape(230, 130, '#000'), ...plusShape(298, 130, '#000'),
    {type: 'text', x: 335, y: 87, silent: true,
     style: {text: legendNames[0], fill: RED, font: '37px "Liberation Sans"', verticalAlign: 'middle', align: 'left'}},
    {type: 'text', x: 335, y: 125, silent: true,
     style: {text: legendNames[1], fill: '#000', font: '37px "Liberation Sans"', verticalAlign: 'middle', align: 'left'}},
    {type: 'text', x: 29, y: 469, rotation: Math.PI / 2, silent: true,
     style: {text: yName, fill: '#000', font: '40px "Liberation Sans"', verticalAlign: 'middle', align: 'center'}}
  ]
};
chart.setOption(option);
</script>
</body>
</html>
